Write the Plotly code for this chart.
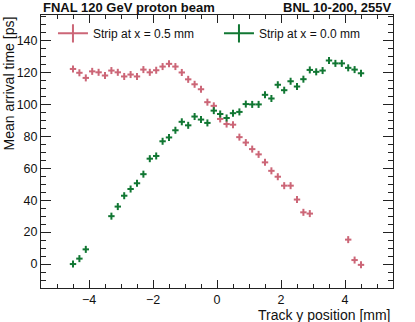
import plotly.graph_objects as go

# ── Data ──────────────────────────────────────────────────────────────────────
X_HALF = [-4.5, -4.3, -4.1, -3.9, -3.7, -3.5, -3.3, -3.1, -2.9, -2.7, -2.5,
          -2.3, -2.1, -1.9, -1.7, -1.5, -1.3, -1.1, -0.9, -0.7, -0.5, -0.3,
          -0.1, 0.1, 0.3, 0.5, 0.7, 0.9, 1.1, 1.3, 1.5, 1.7, 1.9, 2.1, 2.3,
          2.5, 2.7, 2.9, 4.1, 4.3, 4.5]
T_HALF = [122.2, 119.8, 116.6, 120.7, 120.1, 118.1, 121.2, 120.1, 117.5, 118.7,
          117.5, 121.8, 120.1, 121.4, 123.7, 125.4, 123.7, 120.0, 115.7, 112.6,
          109.5, 101.4, 99.1, 90.9, 87.7, 87.3, 79.5, 76.1, 72.0, 68.7, 63.7,
          58.4, 54.7, 49.1, 49.1, 40.4, 32.4, 31.6, 15.3, 2.5, -0.5]

X_ZERO = [-4.5, -4.3, -4.1, -3.3, -3.1, -2.9, -2.7, -2.5, -2.3, -2.1, -1.9,
          -1.7, -1.5, -1.3, -1.1, -0.9, -0.7, -0.5, -0.3, -0.1, 0.1, 0.3, 0.5,
          0.7, 0.9, 1.1, 1.3, 1.5, 1.7, 1.9, 2.1, 2.3, 2.5, 2.7, 2.9, 3.1, 3.3,
          3.5, 3.7, 3.9, 4.1, 4.3, 4.5]
T_ZERO = [0.0, 3.4, 9.2, 30.0, 36.0, 42.8, 47.0, 50.6, 56.3, 66.0, 67.7, 76.9,
          79.3, 83.8, 89.1, 86.9, 92.4, 90.5, 88.4, 96.1, 94.0, 91.5, 94.5, 95.3,
          100.2, 100.0, 100.0, 106.0, 103.7, 112.3, 108.9, 114.5, 111.2, 115.8,
          121.6, 120.4, 121.2, 127.5, 125.7, 125.7, 122.9, 121.8, 119.5]

BIN_HALF = 0.1     # horizontal error = half bin width
T_ERR    = 2.2     # vertical error [ps]

# ── Style ─────────────────────────────────────────────────────────────────────
ROSE  = "#CC6677"
GREEN = "#117733"
AXIS  = "#222222"
FONT  = "Liberation Sans, Arial, Helvetica, sans-serif"

SERIES = [
    ("Strip at x = 0.5 mm", X_HALF, T_HALF, ROSE),
    ("Strip at x = 0.0 mm", X_ZERO, T_ZERO, GREEN),
]

fig = go.Figure()
for name, xs, ys, col in SERIES:
    fig.add_trace(go.Scatter(
        x=xs, y=ys, mode="markers", showlegend=False,
        marker=dict(size=1, color=col),
        error_x=dict(type="constant", value=BIN_HALF, color=col, thickness=2, width=0),
        error_y=dict(type="constant", value=T_ERR, color=col, thickness=2, width=0),
    ))
    # legend-only entry drawn as a cross
    fig.add_trace(go.Scatter(
        x=[None], y=[None], mode="lines+markers", name=name,
        line=dict(color=col, width=2),
        marker=dict(symbol="line-ns", size=13, line=dict(color=col, width=2)),
    ))

axis_common = dict(
    showgrid=False, zeroline=False, showline=True, linecolor=AXIS, linewidth=1,
    mirror="allticks", ticks="inside", tickcolor=AXIS, tickwidth=1,
    tickfont=dict(size=12.5, color="#111111"),
)
fig.update_xaxes(range=[-5.5, 5.5], dtick=2, ticklen=8,
                 minor=dict(dtick=0.5, ticks="inside", ticklen=4, tickcolor=AXIS),
                 **axis_common)
fig.update_yaxes(range=[-15, 156], dtick=20, ticklen=10,
                 minor=dict(dtick=5, ticks="inside", ticklen=5, tickcolor=AXIS),
                 **axis_common)

fig.update_layout(
    width=415, height=322,
    paper_bgcolor="white", plot_bgcolor="white",
    font=dict(family=FONT, color="#111111", size=12),
    margin=dict(l=41, r=22, t=15, b=34),
    showlegend=True,
    legend=dict(orientation="h", x=0.034, y=0.986, xanchor="left", yanchor="top",
                bgcolor="rgba(0,0,0,0)", entrywidth=121, entrywidthmode="pixels",
                font=dict(size=12), itemwidth=30),
    annotations=[
        dict(text="<b>FNAL 120 GeV proton beam</b>", xref="paper", yref="paper",
             x=0, y=1, xanchor="left", yanchor="bottom", showarrow=False,
             font=dict(size=13), yshift=-2),
        dict(text="<b>BNL 10-200, 255V</b>", xref="paper", yref="paper",
             x=1, y=1, xanchor="right", yanchor="bottom", showarrow=False,
             font=dict(size=13), yshift=-2),
        dict(text="Track y position [mm]", xref="paper", yref="paper",
             x=1, y=0, xanchor="right", yanchor="top", showarrow=False,
             font=dict(size=14), yshift=-17),
        dict(text="Mean arrival time [ps]", xref="paper", yref="paper",
             x=-0.0923, y=1, xanchor="center", yanchor="top", showarrow=False,
             textangle=-90, font=dict(size=14)),
    ],
)

# drop the default 8px page margin so the figure sits at the window corner
fig.write_html("out.html", config={"displayModeBar": False},
               post_script="document.body.style.margin='0';")
